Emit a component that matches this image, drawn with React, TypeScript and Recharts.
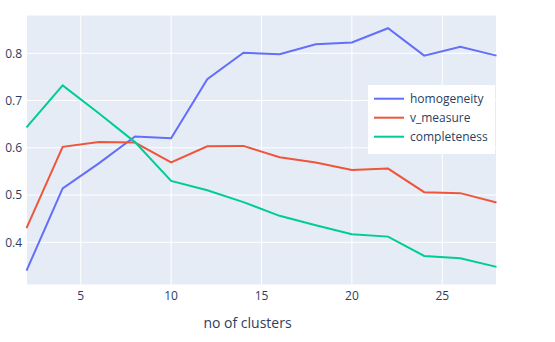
import React from "react";
import {
  LineChart,
  Line,
  XAxis,
  YAxis,
  CartesianGrid,
} from "recharts";

const clusters = [2, 4, 6, 8, 10, 12, 14, 16, 18, 20, 22, 24, 26, 28];
const homogeneity = [0.34, 0.514, 0.567, 0.624, 0.62, 0.745, 0.801, 0.798, 0.819, 0.823, 0.853, 0.795, 0.814, 0.795];
const vMeasure = [0.43, 0.602, 0.612, 0.611, 0.569, 0.603, 0.604, 0.58, 0.569, 0.553, 0.556, 0.506, 0.504, 0.484];
const completeness = [0.643, 0.732, 0.673, 0.612, 0.53, 0.51, 0.485, 0.456, 0.436, 0.417, 0.412, 0.371, 0.366, 0.348];

const xTicks = [5, 10, 15, 20, 25];
const yTicks = [0.4, 0.5, 0.6, 0.7, 0.8];

const series = [
  { key: "homogeneity", color: "#636efa" },
  { key: "v_measure", color: "#ef553b" },
  { key: "completeness", color: "#00cc96" },
];

const data = clusters.map((c, i) => ({
  clusters: c,
  homogeneity: homogeneity[i],
  v_measure: vMeasure[i],
  completeness: completeness[i],
}));

const FONT = '"Open Sans", verdana, arial, sans-serif';
const TEXT = "#2a3f5f";

// plotly-style legend box, drawn over the plot
function LegendBox() {
  return (
    <svg
      width={127}
      height={69}
      style={{ position: "absolute", left: 368, top: 85, display: "block" }}
    >
      <rect x={0} y={0} width={127} height={69} fill="#ffffff" />
      {series.map((s, i) => (
        <g key={s.key} transform={`translate(0, ${13.7 + i * 19})`}>
          <line x1={6} x2={36} y1={0} y2={0} stroke={s.color} strokeWidth={2} />
          <text x={42} y={0} dy="0.35em" fontSize={12} fill={TEXT} fontFamily={FONT}>
            {s.key}
          </text>
        </g>
      ))}
    </svg>
  );
}

export default function App() {
  return (
    <div style={{ position: "absolute", left: 0, top: 0, width: 555, height: 342, background: "#fff" }}>
      <LineChart
        width={555}
        height={342}
        data={data}
        margin={{ top: 15, right: 58.5, left: 0, bottom: 0 }}
        style={{ fontFamily: FONT }}
      >
        <CartesianGrid fill="#E5ECF6" stroke="#ffffff" strokeWidth={1} />
        <XAxis
          dataKey="clusters"
          type="number"
          domain={[2, 28]}
          ticks={xTicks}
          axisLine={false}
          tickLine={false}
          tickSize={0}
          tickMargin={6}
          height={57}
          tick={{ fontSize: 12, fill: TEXT }}
          label={{
            value: "no of clusters",
            position: "insideBottom",
            offset: 14,
            dx: -14,
            fontSize: 14,
            fill: TEXT,
          }}
        />
        <YAxis
          type="number"
          domain={[0.3096, 0.881]}
          allowDataOverflow
          ticks={yTicks}
          width={26.5}
          axisLine={false}
          tickLine={false}
          tickSize={0}
          tickMargin={4.5}
          tick={{ fontSize: 12, fill: TEXT }}
          tickFormatter={(v: number) => v.toFixed(1)}
        />
        {series.map((s) => (
          <Line
            key={s.key}
            dataKey={s.key}
            stroke={s.color}
            strokeWidth={2}
            dot={false}
            activeDot={false}
            isAnimationActive={false}
          />
        ))}
      </LineChart>
      <LegendBox />
    </div>
  );
}
